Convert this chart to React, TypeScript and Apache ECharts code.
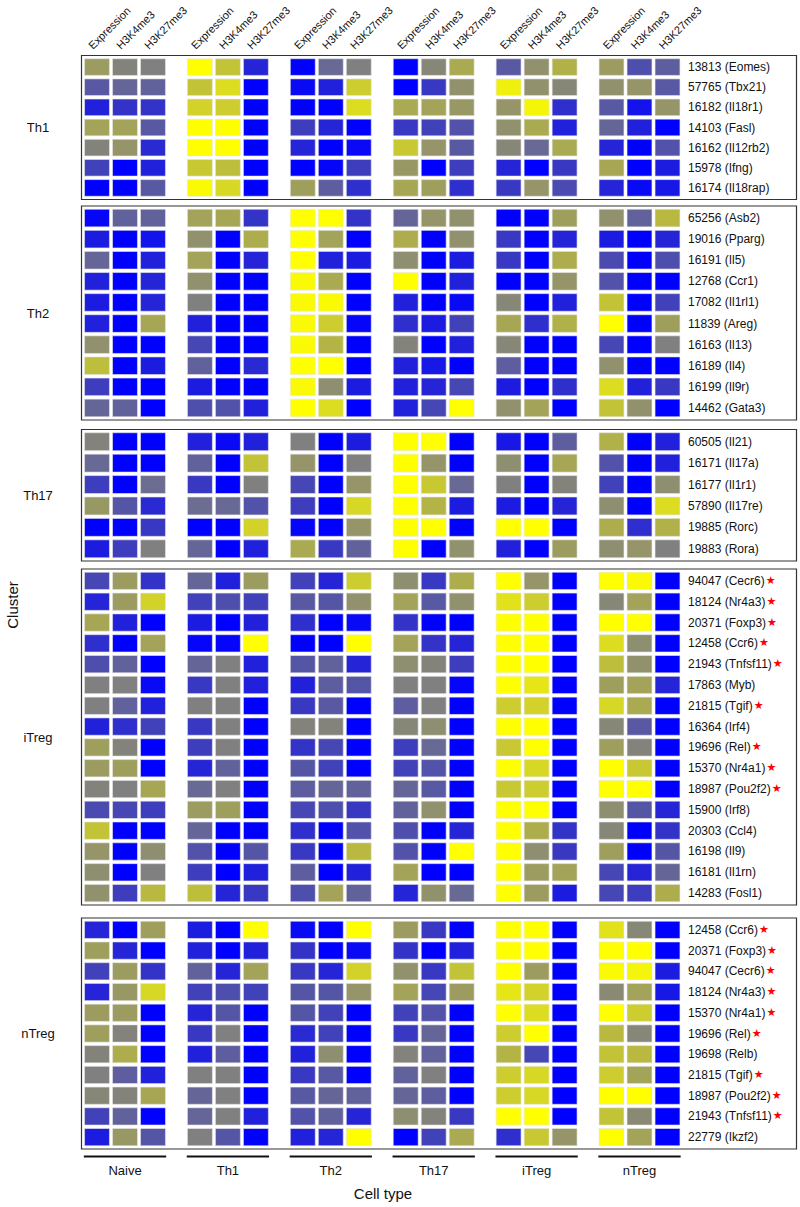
import React, { useEffect, useRef } from "react";
import * as echarts from "echarts";

const cellTypes = ["Naive", "Th1", "Th2", "Th17", "iTreg", "nTreg"];
const marks = ["Expression", "H3K4me3", "H3K27me3"];

const th1Genes = ["13813 (Eomes)", "57765 (Tbx21)", "16182 (Il18r1)", "14103 (Fasl)", "16162 (Il12rb2)", "15978 (Ifng)", "16174 (Il18rap)"];
const th1Values = [
  [0.8, 0.1, 0, 3, 1.8, -2.2, -3, -0.6, 0, -3, 0.2, 1.2, -1.0, 0.5, 1.4, 0.8, -1.3, -0.9],
  [-1.0, -0.7, -0.8, 1.8, 2.3, -3, -2.8, -2.3, 2.0, -3, -1.8, 0.5, 2.7, 0.5, 0.2, 0.5, 0.6, -1.0],
  [-2.3, -1.9, -1.9, 2.1, 2.0, -3, -3, -3, 2.3, 1.2, 1.0, 0.7, 0.6, 2.8, -2.0, -1.0, -2.6, 0.6],
  [1.0, 1.0, -1.0, 3, 3, -3, -1.7, -2.2, -3, -1.8, -1.6, -1.2, 0.5, 1.2, -2.3, -0.7, -2.3, -3],
  [0.1, 0.6, -2.1, 3, 3, -3, -2.2, -3, -2.8, 1.9, 0.6, -1.0, 0.2, -0.6, 1.2, -2.2, -3, -1.2],
  [-1.6, -3, -2.3, 1.9, 1.7, -3, -3, -2.9, -1.7, 0.7, -3, -1.7, -2.2, -3, -1.8, 1.1, -3, -2.4],
  [-3, -3, -1.0, 2.9, 2.2, -3, 0.9, -0.9, -2.0, 1.1, 0.9, -2.0, -1.8, 0.6, -1.4, -2.2, -2.8, -2.5],
];
const th1Starred: string[] = [];

const th2Genes = ["65256 (Asb2)", "19016 (Pparg)", "16191 (Il5)", "12768 (Ccr1)", "17082 (Il1rl1)", "11839 (Areg)", "16163 (Il13)", "16189 (Il4)", "16199 (Il9r)", "14462 (Gata3)"];
const th2Values = [
  [-2.9, -0.8, -0.8, 1.0, 1.1, -1.9, 3, 3, -1.9, -0.7, 0.6, 0.5, -3, -3, 0.9, 0.5, -0.8, 1.6],
  [-2.4, -3, -2.6, 0.5, -3, 1.3, 3, 1.0, -3, 1.3, -3, 0.5, -1.8, -3, -2.2, -2.4, -3, -2.2],
  [-0.7, -3, -2.3, 1.0, -3, -2.2, 3, -2.3, -2.4, 0.4, -3, -2.4, -1.8, -3, 1.3, -1.4, -3, -1.3],
  [-2.3, -3, -2.2, 0.5, -3, -3, 2.9, 1.2, -3, 3, -3, -2.3, -3, -3, 0.6, -1.2, -3, -3],
  [-2.4, -3, -2.2, 0, -3, -3, 2.9, 2.9, -3, -2.3, -3, -2.8, 0.2, -3, -2.3, 1.8, -3, -1.6],
  [-2.3, -3, 1.1, -2.3, -3, -3, 2.9, 2.0, -2.9, -2.0, -2.4, -1.6, 1.1, -2.0, 1.4, 3, -3, 0.9],
  [0.5, -3, -3, -1.5, -3, -3, 2.9, 1.5, -3, 0.1, -3, -2.3, 0.2, -3, -3, -1.5, -3, 0],
  [1.7, -3, -2.4, -0.8, -3, -2.1, 3, 3, -3, -2.3, -2.5, -3, -0.9, -3, -3, 0.5, -3, -3],
  [-1.7, -3, -3, -2.4, -3, -3, 2.9, 0.4, -2.4, -2.3, -2.2, -1.5, -2.4, -3, -2.0, 2.3, -2.3, -1.8],
  [-0.7, -0.8, -3, -1.3, -1.2, -2.3, 3, 2.3, -3, -2.3, -1.5, 3, 0.5, 1.0, -3, 1.8, 0.5, -3],
];
const th2Starred: string[] = [];

const th17Genes = ["60505 (Il21)", "16171 (Il17a)", "16177 (Il1r1)", "57890 (Il17re)", "19885 (Rorc)", "19883 (Rora)"];
const th17Values = [
  [0.1, -3, -3, -2.3, -2.8, -2.3, 0, -3, -2.4, 3, 3, -3, -2.5, -3, -0.9, 1.4, -3, -2.3],
  [-0.6, -3, -3, -0.8, -3, 1.8, 0.6, -3, 0, 3, 0.6, -3, 0.4, -3, 1.1, -1.2, -3, -2.3],
  [-1.7, -3, -0.5, -1.8, -3, 0, -1.5, -3, 0.6, 3, 1.9, -0.6, 0, -3, 0.1, -1.6, -3, 0.4],
  [0.7, -1.1, -2.1, -0.5, -0.6, -1.2, -1.7, -3, 2.2, 3, 1.5, -2.4, -2.4, -3, -2.2, 0.4, -3, 2.3],
  [-3, -3, -1.8, -3, -3, 2.1, -2.9, -3, 0.6, 3, 3, -3, 3, 3, -3, 1.3, -2.0, 1.4],
  [-2.4, -1.7, 0, -0.7, -3, -2.3, 1.2, -1.8, -0.8, 3, -3, 0.5, -2.3, -3, 0.8, 0.4, 0.6, 0],
];
const th17Starred: string[] = [];

const itregGenes = ["94047 (Cecr6)", "18124 (Nr4a3)", "20371 (Foxp3)", "12458 (Ccr6)", "21943 (Tnfsf11)", "17863 (Myb)", "21815 (Tgif)", "16364 (Irf4)", "19696 (Rel)", "15370 (Nr4a1)", "18987 (Pou2f2)", "15900 (Irf8)", "20303 (Ccl4)", "16198 (Il9)", "16181 (Il1rn)", "14283 (Fosl1)"];
const itregValues = [
  [-1.5, 0.8, -1.9, -0.7, -2.3, 0.8, -1.6, -2.2, 2.0, 0.4, -1.8, 1.3, 3, 0.6, -3, 3, 2.9, -3],
  [-2.2, 0.8, 2.1, -1.6, -1.3, -1.6, -1.0, -1.1, 0.5, 1.0, -1.0, 0.5, 2.4, 2.0, -3, 0.2, 1.0, -3],
  [1.1, -2.3, -3, -2.4, -3, -2.3, -2.0, -3, -2.8, -1.9, -3, -3, 3, 3, -3, 3, 3, -3],
  [-2.0, -3, 1.0, -2.9, -2.9, 3, -3, -3, 3, 1.0, -1.9, -2.2, 3, 3, -3, 2.3, 0.4, -3],
  [-1.3, -0.8, -3, -0.7, 0, -2.3, -1.1, -0.8, -2.2, 0.4, 0.1, -1.7, 3, 3, -3, 1.7, 0.5, -3],
  [0, 0, -2.8, -1.8, 0, -2.3, -2.3, -0.9, -1.1, 0, 0, -2.9, 3, 2.5, -3, 0.9, 1.0, -2.2],
  [0, -0.8, -2.3, 0, 0, -3, -1.8, -1.0, -3, -0.9, 0, -3, 2.0, 2.1, -3, 2.2, 1.2, -3],
  [-2.3, -2.0, -1.6, -1.8, 0, -3, 0.1, 0.1, -3, 0.2, 0.4, -3, 3, 3, -3, 0.2, -1.0, -3],
  [0.9, 0.1, -3, -1.7, 0, -3, -1.9, -1.5, -3, -1.7, -0.6, -3, 1.9, 3, -3, 0.9, 0.1, -3],
  [0.8, 0.9, -3, -2.2, -0.8, -3, -1.1, -1.6, -3, -1.6, -1.2, -3, 3, 2.2, -3, 3, 1.9, -3],
  [0.1, 0, 1.1, -0.6, 0, -3, -0.9, -0.7, -0.8, -0.7, -1.0, -3, 1.9, 2.0, -3, 3, 3, -3],
  [-1.4, -1.5, -1.7, 0.8, 0.9, -3, -1.5, -1.3, -1.8, -0.8, 0.5, -3, 3, 3, -3, 0.4, -1.1, -2.2],
  [1.8, -3, -3, -0.7, -3, -3, -2.0, -3, -1.2, -1.3, -3, -2.2, 3, 1.3, -1.9, 0.2, -3, -1.9],
  [0.6, -3, 0.4, -1.2, -3, -1.1, -1.8, -3, 1.6, -1.2, -3, 3, 3, 0.4, -1.8, 0.9, -3, -1.1],
  [0.4, -3, 0, -1.7, -3, -2.3, -0.9, -3, -2.3, 1.0, -3, -3, 3, 0.8, 1.0, -1.5, -2.2, -0.7],
  [0.5, -1.7, 1.6, 1.7, -2.2, -1.8, -1.3, 1.0, -0.8, -2.2, 0.5, -0.6, 3, 0.8, -2.4, -1.5, -1.7, 1.3],
];
const itregStarred = ["94047 (Cecr6)", "18124 (Nr4a3)", "20371 (Foxp3)", "12458 (Ccr6)", "21943 (Tnfsf11)", "21815 (Tgif)", "19696 (Rel)", "15370 (Nr4a1)", "18987 (Pou2f2)"];

const ntregGenes = ["12458 (Ccr6)", "20371 (Foxp3)", "94047 (Cecr6)", "18124 (Nr4a3)", "15370 (Nr4a1)", "19696 (Rel)", "19698 (Relb)", "21815 (Tgif)", "18987 (Pou2f2)", "21943 (Tnfsf11)", "22779 (Ikzf2)"];
const ntregValues = [
  [-2.2, -3, 0.9, -2.4, -3, 3, -2.8, -3, 3, 0.8, -1.8, -3, 3, 3, -3, 2.4, 0.2, -3],
  [0.9, -2.2, -3, -2.3, -3, -2.3, -1.9, -3, -2.8, -1.9, -3, -2.3, 3, 3, -3, 3, 3, -3],
  [-1.6, 0.8, -1.9, -0.8, -2.2, 1.0, -1.8, -2.2, 2.1, 0.5, -1.8, 1.8, 3, 0.8, -3, 2.9, 2.8, -2.4],
  [-2.2, 0.7, 2.2, -1.6, -1.3, -1.6, -1.1, -1.1, 0.6, 1.0, -1.5, 0.8, 2.5, 2.1, -3, 0.3, 1.0, -2.5],
  [0.8, 0.8, -3, -2.2, -1.1, -3, -1.1, -1.6, -3, -1.6, -1.2, -3, 3, 2.3, -3, 3, 2.0, -3],
  [0.9, 0.1, -3, -1.8, 0, -3, -2.1, -1.6, -3, -1.8, -0.7, -3, 2.0, 3, -3, 1.6, 0.2, -3],
  [0.1, 1.3, -3, -2.3, -0.9, -3, -2.3, 0.4, -3, 0.1, -0.8, -3, 1.5, -1.5, -3, 1.8, 1.6, -3],
  [0, -0.9, -2.3, 0, 0, -3, -1.8, -1.0, -3, -0.8, 0, -3, 2.0, 2.2, -3, 2.0, 1.0, -3],
  [0.2, 0.1, 1.1, -0.7, 0, -3, -1.0, -0.7, -0.8, -0.7, -0.9, -3, 2.0, 2.2, -3, 3, 3, -3],
  [-1.6, -0.8, -3, -0.7, 0, -2.3, -1.2, -0.8, -2.2, 0.4, 0.1, -1.8, 3, 3, -3, 1.8, 0.3, -3],
  [-2.4, 0.7, -1.1, 0, -1.1, -3, -2.3, -2.2, 3, -3, -1.6, 1.2, -2.0, 1.9, 0.6, 3, 1.0, -3],
];
const ntregStarred = ["12458 (Ccr6)", "20371 (Foxp3)", "94047 (Cecr6)", "18124 (Nr4a3)", "15370 (Nr4a1)", "19696 (Rel)", "21815 (Tgif)", "18987 (Pou2f2)", "21943 (Tnfsf11)"];

const panels = [
  { name: "Th1", genes: th1Genes, values: th1Values, starred: th1Starred, top: 57, height: 141 },
  { name: "Th2", genes: th2Genes, values: th2Values, starred: th2Starred, top: 207.5, height: 211 },
  { name: "Th17", genes: th17Genes, values: th17Values, starred: th17Starred, top: 431, height: 128.5 },
  { name: "iTreg", genes: itregGenes, values: itregValues, starred: itregStarred, top: 570.5, height: 333 },
  { name: "nTreg", genes: ntregGenes, values: ntregValues, starred: ntregStarred, top: 919.5, height: 228 },
];

const FONT = "Liberation Sans, Arial, sans-serif";
const GROUP_STEP = 3.675; // group pitch in column units
const GRID_LEFT = 82;
const GRID_RIGHT_EDGE = 684;
const COL_PX = 28;
const X_MIN = -(97 - GRID_LEFT) / COL_PX;
const X_MAX = X_MIN + (GRID_RIGHT_EDGE - GRID_LEFT) / COL_PX;

const colPos = (i: number) => Math.floor(i / 3) * GROUP_STEP + (i % 3);

export default function App() {
  const ref = useRef<HTMLDivElement>(null);
  useEffect(() => {
    if (!ref.current) return;
    const chart = echarts.init(ref.current, null, { renderer: "svg" });

    const grid: any[] = [];
    const xAxis: any[] = [];
    const yAxis: any[] = [];
    const series: any[] = [];
    const graphic: any[] = [];

    panels.forEach((p, pi) => {
      grid.push({ left: GRID_LEFT, width: GRID_RIGHT_EDGE - GRID_LEFT, top: p.top, height: p.height });
      xAxis.push({ type: "value", gridIndex: pi, min: X_MIN, max: X_MAX, show: false });
      const starred = p.starred;
      yAxis.push({
        type: "category",
        gridIndex: pi,
        data: p.genes,
        inverse: true,
        position: "right",
        axisLine: { show: false },
        axisTick: { show: false },
        splitLine: { show: false },
        axisLabel: {
          margin: 4,
          fontSize: 12,
          color: "#111",
          fontFamily: FONT,
          formatter: (v: string) => (starred.indexOf(v) >= 0 ? v + "{s|★}" : v),
          rich: { s: { color: "#ff0000", fontSize: 11, fontFamily: "DejaVu Sans", padding: [0, 0, 1, 1] } },
        },
      });
      const data: any[] = [];
      p.values.forEach((row, ri) => row.forEach((v, ci) => data.push([colPos(ci), ri, v])));
      series.push({
        type: "custom",
        name: p.name,
        xAxisIndex: pi,
        yAxisIndex: pi,
        encode: { x: 0, y: 1 },
        data,
        renderItem: (params: any, api: any) => {
          const pt = api.coord([api.value(0), api.value(1)]);
          const sz = api.size([1, 1]);
          const w = sz[0] * 0.89;
          const h = sz[1] - 3.5;
          return {
            type: "rect",
            shape: { x: pt[0] - w / 2, y: pt[1] - h / 2, width: w, height: h },
            style: { fill: api.visual("color"), stroke: "#e6e6e6", lineWidth: 0.6 },
          };
        },
      });
      graphic.push({
        type: "rect",
        shape: { x: 81.5, y: p.top - 1.5, width: 715, height: p.height + 3 },
        style: { fill: "none", stroke: "#333", lineWidth: 1.2 },
        z: 10,
      });
      graphic.push({
        type: "text",
        x: 38,
        y: p.top + p.height / 2,
        style: { text: p.name, fontSize: 13, fontFamily: FONT, fill: "#111", align: "center", verticalAlign: "middle" },
      });
    });

    // column headers: rotated 45 degrees, anchored above each column
    const headerTop = panels[0].top;
    cellTypes.forEach((_, g) =>
      marks.forEach((m, c) => {
        const cx = GRID_LEFT + (colPos(g * 3 + c) - X_MIN) * COL_PX;
        graphic.push({
          type: "text",
          x: cx - 3,
          y: headerTop - 6,
          rotation: Math.PI / 4,
          style: {
            text: m,
            fontSize: 11,
            fontFamily: FONT,
            fill: "#111",
            align: "left",
            verticalAlign: "bottom",
          },
        });
      })
    );

    // cell type group lines and labels (below last panel)
    const lastIdx = panels.length - 1;
    const lastRows = panels[lastIdx].genes.length;
    const groupData = cellTypes.map((_, g) => [colPos(g * 3 + 1), lastRows - 1]);
    series.push({
      type: "custom",
      name: "groups",
      xAxisIndex: lastIdx,
      yAxisIndex: lastIdx,
      encode: { x: 0, y: 1 },
      data: groupData,
      renderItem: (params: any, api: any) => {
        const pt = api.coord([api.value(0), api.value(1)]);
        const sz = api.size([1, 1]);
        const bottom = pt[1] + sz[1] / 2;
        const half = sz[0] * 1.47;
        return {
          type: "group",
          children: [
            {
              type: "line",
              shape: { x1: pt[0] - half, y1: bottom + 9, x2: pt[0] + half, y2: bottom + 9 },
              style: { stroke: "#111", lineWidth: 2 },
            },
            {
              type: "text",
              x: pt[0],
              y: bottom + 23,
              style: {
                text: cellTypes[params.dataIndex],
                fontSize: 13,
                fontFamily: FONT,
                fill: "#111",
                align: "center",
                verticalAlign: "middle",
              },
            },
          ],
        };
      },
    });

    graphic.push({
      type: "text",
      x: 12,
      y: 605,
      rotation: Math.PI / 2,
      style: { text: "Cluster", fontSize: 15, fontFamily: FONT, fill: "#111", align: "center", verticalAlign: "middle" },
    });
    graphic.push({
      type: "text",
      x: 383,
      y: 1193,
      style: { text: "Cell type", fontSize: 15, fontFamily: FONT, fill: "#111", align: "center", verticalAlign: "middle" },
    });

    chart.setOption({
      animation: false,
      backgroundColor: "#ffffff",
      grid,
      xAxis,
      yAxis,
      visualMap: {
        type: "continuous",
        show: false,
        min: -3,
        max: 3,
        dimension: 2,
        seriesIndex: panels.map((_, i) => i),
        inRange: { color: ["#0000ff", "#4646b4", "#808080", "#b4b446", "#ffff00"] },
      },
      series,
      graphic,
    });
    return () => chart.dispose();
  }, []);
  return <div ref={ref} style={{ position: "fixed", left: 0, top: 0, width: 800, height: 1207, background: "#fff" }} />;
}
